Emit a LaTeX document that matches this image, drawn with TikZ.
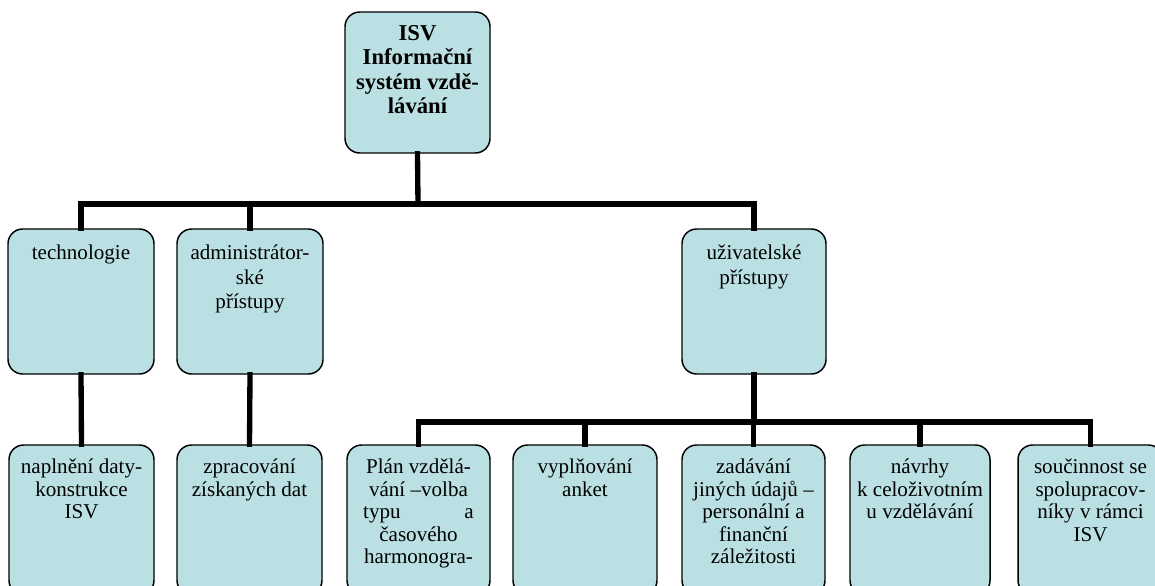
\documentclass[tikz,border=0pt]{standalone}
\usepackage{fontspec}
\setmainfont{Liberation Serif}
\definecolor{boxfill}{RGB}{187,224,227}
\newcommand{\tstrut}{\rule{0pt}{15pt}}
\begin{document}
\begin{tikzpicture}[x=0.75pt,y=-0.75pt,
  box/.style={draw=black,line width=1.1pt,fill=boxfill,rounded corners=11pt,inner sep=0pt},
  txt/.style={anchor=north,align=center,font=\fontsize{15.8}{16.9}\selectfont,inner sep=0pt},
  txtb/.style={txt,font=\fontsize{15.8}{18.4}\selectfont},
  conn/.style={line width=4pt,line cap=rect}]
\useasboundingbox (0,0) rectangle (1155,585);
\clip (0,0) rectangle (1155,585);
\newcommand{\bx}[5]{\node[box,minimum width={(#4-#2)*0.75pt},minimum height={(#5-#3)*0.75pt}] (#1) at ({(#2+#4)/2},{(#3+#5)/2}) {};}
% boxes
\bx{top}{345}{12}{490}{153}
\bx{tech}{8}{229}{154}{374}
\bx{admin}{177}{229}{323}{374}
\bx{uziv}{682}{229}{826}{374}
\bx{napl}{9}{445}{154}{595}
\bx{zprac}{177}{445}{322}{595}
\bx{plan}{347}{445}{490}{595}
\bx{vypl}{513}{445}{657}{595}
\bx{zadav}{682}{445}{825}{595}
\bx{navrhy}{850}{445}{990}{595}
\bx{soucin}{1018}{445}{1163}{595}
% connectors
\coordinate (j1) at (418,204);
\coordinate (j2) at (754,422);
\draw[conn] (top.south) -- (j1);
\draw[conn] (j1) -| (tech.north);
\draw[conn] (j1) -| (admin.north);
\draw[conn] (j1) -| (uziv.north);
\draw[conn] (tech.south) -- (napl.north);
\draw[conn] (admin.south) -- (zprac.north);
\draw[conn] (uziv.south) -- (j2);
\draw[conn] (j2) -| (plan.north);
\draw[conn] (j2) -| (vypl.north);
\draw[conn] (j2) -| (zadav.north);
\draw[conn] (j2) -| (navrhy.north);
\draw[conn] (j2) -| (soucin.north);
% texts
\node[txt,font=\bfseries\fontsize{17}{18.3}\selectfont] (ttop) at ([yshift=-9*0.75pt]top.north) {\tstrut ISV\\Informační\\systém vzdě-\\lávání};
\node[txtb] (ttech) at ([yshift=-11*0.75pt]tech.north) {\tstrut technologie};
\node[txtb] (tadmin) at ([yshift=-11*0.75pt]admin.north) {\tstrut administrátor-\\ské\\přístupy};
\node[txtb] (tuziv) at ([yshift=-11*0.75pt]uziv.north) {\tstrut uživatelské\\přístupy};
\node[txt] (tnapl) at ([yshift=-9*0.75pt]napl.north) {\tstrut naplnění daty-\\konstrukce\\ISV};
\node[txt] (tzprac) at ([yshift=-9*0.75pt]zprac.north) {\tstrut zpracování\\získaných dat};
\node[txt] (tplan) at ([yshift=-9*0.75pt]plan.north) {\tstrut Plán vzdělá-\\vání –volba\\\makebox[83pt][s]{typu a}\\časového\\harmonogra-};
\node[txt] (tvypl) at ([yshift=-9*0.75pt]vypl.north) {\tstrut vyplňování\\anket};
\node[txt] (tzadav) at ([yshift=-9*0.75pt]zadav.north) {\tstrut zadávání\\jiných údajů –\\personální a\\finanční\\záležitosti};
\node[txt] (tnavrhy) at ([yshift=-9*0.75pt]navrhy.north) {\tstrut návrhy\\k celoživotním\\u vzdělávání};
\node[txt] (tsoucin) at ([yshift=-9*0.75pt]soucin.north) {\tstrut součinnost se\\spolupracov-\\níky v rámci\\ISV};
\end{tikzpicture}
\end{document}
